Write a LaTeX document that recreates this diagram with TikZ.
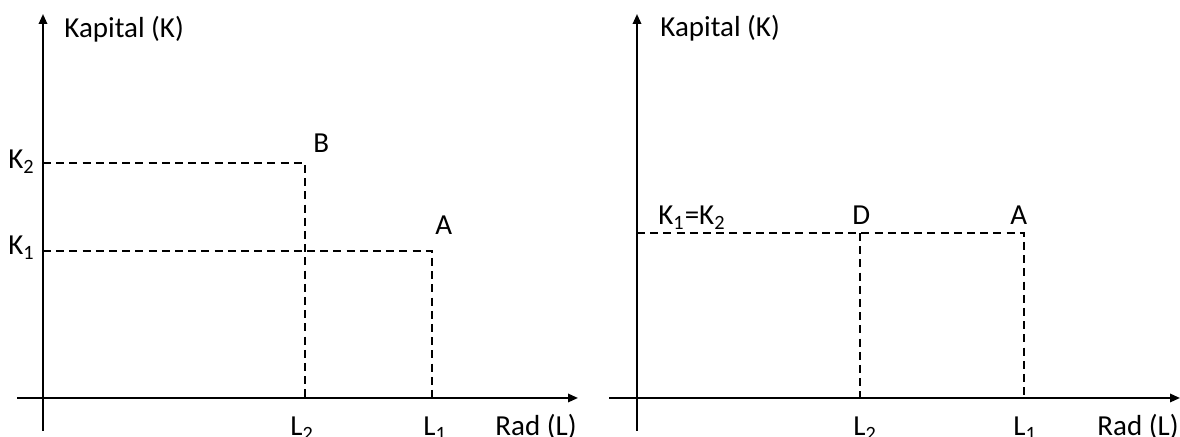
\documentclass[tikz,border=0pt]{standalone}
\usepackage{fontspec}
\setmainfont{Carlito}
\usetikzlibrary{arrows.meta}
\tikzset{
  % an axis
  ax/.style  = {-{Triangle[length=5pt,width=4.2pt]}, line width=1pt},
  % a dashed guide line
  gd/.style  = {line width=0.6pt, dash pattern=on 4pt off 2.6pt},
  % a label, placed by its baseline
  lb/.style  = {anchor=base west, inner sep=0pt, font=\fontsize{14.5}{17}\selectfont},
}

\begin{document}
\begin{tikzpicture}[x=0.5pt, y=0.5pt]
  \useasboundingbox (0,0) rectangle (1180,437);
  % --- left: two points, K and L both move ---
  \coordinate (lo)  at (43,39);
  \coordinate (lt)  at (43,423);
  \coordinate (lbt) at (43,6);
  \coordinate (llf) at (17,39);
  \coordinate (lrt) at (578,39);
  \coordinate (pB)  at (305,274);
  \coordinate (pA)  at (432,186);
  \draw[line width=1pt] (lbt) -- (lo);
  \draw[ax] (lo) -- (lt);
  \draw[ax] (llf) -- (lrt);
  \draw[gd] (lo |- pB) -- (pB) -- (pB |- lo);
  \draw[gd] (lo |- pA) -- (pA) -- (pA |- lo);
  \node[lb] (kapL) at (64,399) {Kapital (K)};
  \node[lb] (k2L)  at (8,268)  {K\textsubscript{2}};
  \node[lb] (k1L)  at (8,182)  {K\textsubscript{1}};
  \node[lb] (nB)   at (313,284) {B};
  \node[lb] (nA)   at (435,202) {A};
  \node[lb] (l2L)  at (290,1)  {L\textsubscript{2}};
  \node[lb] (l1L)  at (423,1)  {L\textsubscript{1}};
  \node[lb] (radL) at (495,1)  {Rad (L)};
  % --- right: same K, less L ---
  \coordinate (ro)  at (637,39);
  \coordinate (rt)  at (637,423);
  \coordinate (rbt) at (637,6);
  \coordinate (rlf) at (609,39);
  \coordinate (rrt) at (1180,39);
  \coordinate (pD)  at (860,204);
  \coordinate (pA2) at (1024,204);
  \draw[line width=1pt] (rbt) -- (ro);
  \draw[ax] (ro) -- (rt);
  \draw[ax] (rlf) -- (rrt);
  \draw[gd] (ro |- pA2) -- (pA2) -- (pA2 |- ro);
  \draw[gd] (pD) -- (pD |- ro);
  \node[lb] (kapR) at (660,400) {Kapital (K)};
  \node[lb] (k12R) at (658,212) {K\textsubscript{1}=K\textsubscript{2}};
  \node[lb] (nD)   at (852,212) {D};
  \node[lb] (nA2)  at (1010,212) {A};
  \node[lb] (l2R)  at (853,1)  {L\textsubscript{2}};
  \node[lb] (l1R)  at (1013,1) {L\textsubscript{1}};
  \node[lb] (radR) at (1097,1) {Rad (L)};
\end{tikzpicture}
\end{document}
